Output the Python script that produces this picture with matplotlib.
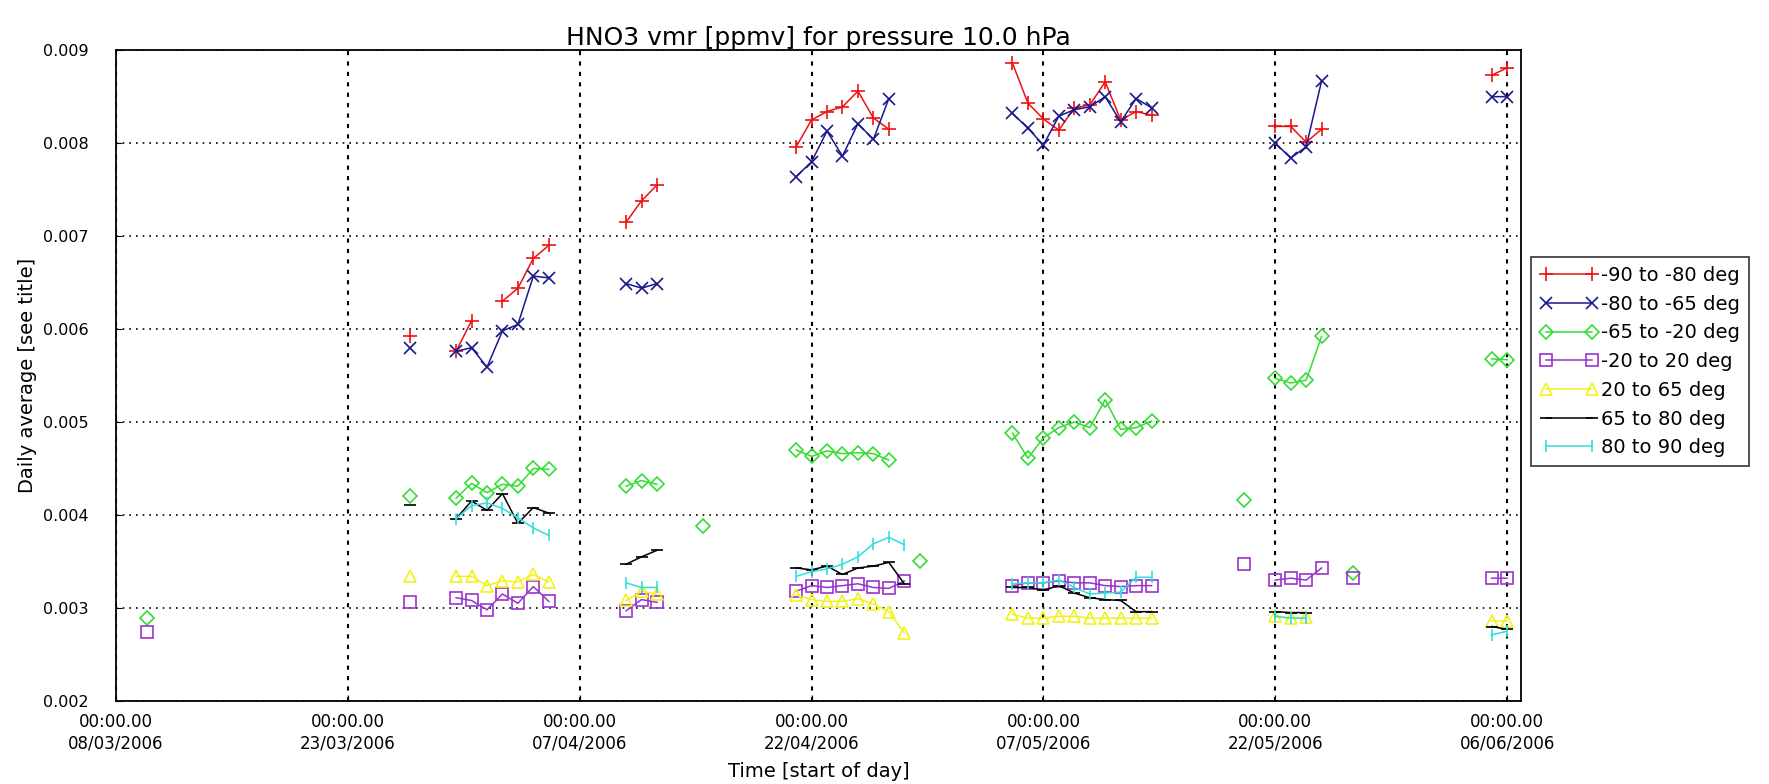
import matplotlib
matplotlib.use("Agg")
import matplotlib.pyplot as plt
import matplotlib.dates as mdates
import numpy as np

# Day offsets counted from 08/03/2006
start_date = "2006-03-08"

red_days = [19, 22, 23, 25, 26, 27, 28, 33, 34, 35, 44, 45, 46, 47, 48, 49, 50,
            58, 59, 60, 61, 62, 63, 64, 65, 66, 67, 75, 76, 77, 78, 89, 90]
red_vals = [0.00592, 0.00576, 0.00609, 0.0063, 0.00644, 0.00676, 0.0069,
            0.00715, 0.00738, 0.00755,
            0.00796, 0.00825, 0.00834, 0.00839, 0.00856, 0.00827, 0.00815,
            0.00886, 0.00843, 0.00826, 0.00814, 0.00838, 0.00841, 0.00866, 0.00825, 0.00834, 0.0083,
            0.00818, 0.00818, 0.00801, 0.00815, 0.00873, 0.00881]

blue_days = [19, 22, 23, 24, 25, 26, 27, 28, 33, 34, 35, 44, 45, 46, 47, 48, 49, 50,
             58, 59, 60, 61, 62, 63, 64, 65, 66, 67, 75, 76, 77, 78, 89, 90]
blue_vals = [0.0058, 0.00576, 0.0058, 0.00559, 0.00598, 0.00605, 0.00657, 0.00655,
             0.00649, 0.00644, 0.00649,
             0.00764, 0.0078, 0.00813, 0.00786, 0.00821, 0.00804, 0.00848,
             0.00832, 0.00816, 0.00798, 0.00829, 0.00836, 0.00839, 0.0085, 0.00823, 0.00848, 0.00838,
             0.008, 0.00784, 0.00796, 0.00867, 0.0085, 0.0085]

green_days = [2, 19, 22, 23, 24, 25, 26, 27, 28, 33, 34, 35, 38, 44, 45, 46, 47, 48, 49, 50, 52,
              58, 59, 60, 61, 62, 63, 64, 65, 66, 67, 73, 75, 76, 77, 78, 80, 89, 90]
green_vals = [0.00289, 0.0042, 0.00418, 0.00434, 0.00424, 0.00433, 0.00431, 0.0045, 0.00449,
              0.00431, 0.00437, 0.00433, 0.00388,
              0.0047, 0.00463, 0.00469, 0.00466, 0.00467, 0.00466, 0.00459, 0.00351,
              0.00488, 0.00461, 0.00483, 0.00494, 0.005, 0.00494, 0.00524, 0.00492, 0.00494, 0.00501,
              0.00416, 0.00547, 0.00542, 0.00545, 0.00592, 0.00338, 0.00568, 0.00567]

purple_days = [2, 19, 22, 23, 24, 25, 26, 27, 28, 33, 34, 35, 44, 45, 46, 47, 48, 49, 50, 51,
               58, 59, 60, 61, 62, 63, 64, 65, 66, 67, 73, 75, 76, 77, 78, 80, 89, 90]
purple_vals = [0.00274, 0.00306, 0.00311, 0.00308, 0.00298, 0.00315, 0.00305, 0.00323, 0.00307,
               0.00297, 0.00309, 0.00306,
               0.00318, 0.00324, 0.00322, 0.00324, 0.00326, 0.00322, 0.00321, 0.00329,
               0.00324, 0.00327, 0.00327, 0.00329, 0.00327, 0.00327, 0.00324, 0.00323, 0.00324, 0.00324,
               0.00347, 0.0033, 0.00332, 0.0033, 0.00343, 0.00332, 0.00332, 0.00332]

yellow_days = [19, 22, 23, 24, 25, 26, 27, 28, 33, 34, 35, 44, 45, 46, 47, 48, 49, 50, 51,
               58, 59, 60, 61, 62, 63, 64, 65, 66, 67, 75, 76, 77, 89, 90]
yellow_vals = [0.00334, 0.00334, 0.00334, 0.00324, 0.00329, 0.00328, 0.00336, 0.00328,
               0.00308, 0.00318, 0.00315,
               0.00314, 0.00309, 0.00307, 0.00307, 0.0031, 0.00304, 0.00296, 0.00273,
               0.00293, 0.00289, 0.00289, 0.00291, 0.00291, 0.00289, 0.00289, 0.00289, 0.00289, 0.00289,
               0.00291, 0.00289, 0.0029, 0.00286, 0.00286]

black_days = [19, 22, 23, 24, 25, 26, 27, 28, 33, 34, 35, 44, 45, 46, 47, 48, 49, 50, 51,
              58, 59, 60, 61, 62, 63, 64, 65, 66, 67, 75, 76, 77, 89, 90]
black_vals = [0.00411, 0.00396, 0.00415, 0.00405, 0.00423, 0.00391, 0.00408, 0.00402,
              0.00347, 0.00355, 0.00362,
              0.00343, 0.00341, 0.00345, 0.00336, 0.00343, 0.00345, 0.00349, 0.00326,
              0.00322, 0.00322, 0.00319, 0.00324, 0.00316, 0.00311, 0.00309, 0.00308, 0.00296, 0.00296,
              0.00296, 0.00295, 0.00295, 0.0028, 0.00277]

cyan_days = [22, 23, 24, 25, 26, 27, 28, 33, 34, 35, 44, 45, 46, 47, 48, 49, 50, 51,
             58, 59, 60, 61, 62, 63, 64, 65, 66, 67, 75, 76, 77, 89, 90]
cyan_vals = [0.00396, 0.0041, 0.00413, 0.00407, 0.00397, 0.00386, 0.00378,
             0.00327, 0.00322, 0.00322,
             0.00334, 0.00339, 0.00342, 0.00347, 0.00355, 0.00369, 0.00376, 0.00368,
             0.00326, 0.00327, 0.00327, 0.0033, 0.00322, 0.00315, 0.00316, 0.00317, 0.00333, 0.00333,
             0.00291, 0.00289, 0.00289, 0.00271, 0.00275]

labels = ["-90 to -80 deg", "-80 to -65 deg", "-65 to -20 deg", "-20 to 20 deg",
          "20 to 65 deg", "65 to 80 deg", "80 to 90 deg"]
tick_days = [0, 15, 30, 45, 60, 75, 90]


def with_gaps(days, vals):
    # break the line wherever a day is missing
    xs, ys = [], []
    for i, (d, v) in enumerate(zip(days, vals)):
        if i > 0 and d - days[i - 1] > 1:
            xs.append(np.nan)
            ys.append(np.nan)
        xs.append(d)
        ys.append(v)
    return np.array(xs, dtype=float), np.array(ys, dtype=float)


plt.rcParams["font.family"] = "DejaVu Sans"
fig = plt.figure(figsize=(17.69, 7.84), dpi=100)
ax = fig.add_axes([0.0656, 0.106, 0.7942, 0.830])

t0 = mdates.date2num(np.datetime64(start_date))

series = [
    (red_days, red_vals, "#ee1111", "+", 10, labels[0]),
    (blue_days, blue_vals, "#18188f", "x", 9, labels[1]),
    (green_days, green_vals, "#33dd33", "D", 7, labels[2]),
    (purple_days, purple_vals, "#9933cc", "s", 9, labels[3]),
    (yellow_days, yellow_vals, "#f2f21a", "^", 8, labels[4]),
    (black_days, black_vals, "black", "_", 9, labels[5]),
    (cyan_days, cyan_vals, "#33dddd", "|", 9, labels[6]),
]

for days, vals, color, marker, ms, label in series:
    xs, ys = with_gaps(days, vals)
    ax.plot(t0 + xs, ys, color=color, marker=marker, markersize=ms,
            markerfacecolor="none", markeredgecolor=color, markeredgewidth=1.2,
            linewidth=1.1, label=label)

ax.set_xlim(t0, t0 + 90.9)
ax.set_ylim(0.002, 0.009)
ax.set_xticks([t0 + d for d in tick_days])
ax.xaxis.set_major_formatter(mdates.DateFormatter("%H:%M.%S\n%d/%m/%Y"))
ax.set_yticks(np.arange(0.002, 0.0091, 0.001))
ax.yaxis.set_major_formatter(matplotlib.ticker.FormatStrFormatter("%.3f"))
ax.tick_params(axis="x", direction="in", length=4, labelsize=12, pad=9)
ax.tick_params(axis="y", direction="in", length=4, labelsize=11.5, pad=20)
for lab in ax.get_xticklabels():
    lab.set_linespacing(1.2)

ax.grid(True, axis="y", color="black", linestyle=(0, (1, 3)), linewidth=1.2)
ax.grid(True, axis="x", color="black", linestyle=(0, (2, 3)), linewidth=1.5)
for sp in ax.spines.values():
    sp.set_linewidth(1.3)

ax.set_title("HNO3 vmr [ppmv] for pressure 10.0 hPa", fontsize=18, pad=4)
ax.set_xlabel("Time [start of day]", fontsize=14, labelpad=7)
ax.set_ylabel("Daily average [see title]", fontsize=14, labelpad=4)

leg = ax.legend(loc="upper left", bbox_to_anchor=(0.8655, 0.672),
                bbox_transform=fig.transFigure, fontsize=14, numpoints=2,
                handlelength=3.0, handletextpad=0.15, borderpad=0.45,
                labelspacing=0.5, frameon=True, fancybox=False,
                borderaxespad=0)
leg.get_frame().set_edgecolor("black")
leg.get_frame().set_linewidth(1.2)

fig.savefig("out.png", dpi=100)
